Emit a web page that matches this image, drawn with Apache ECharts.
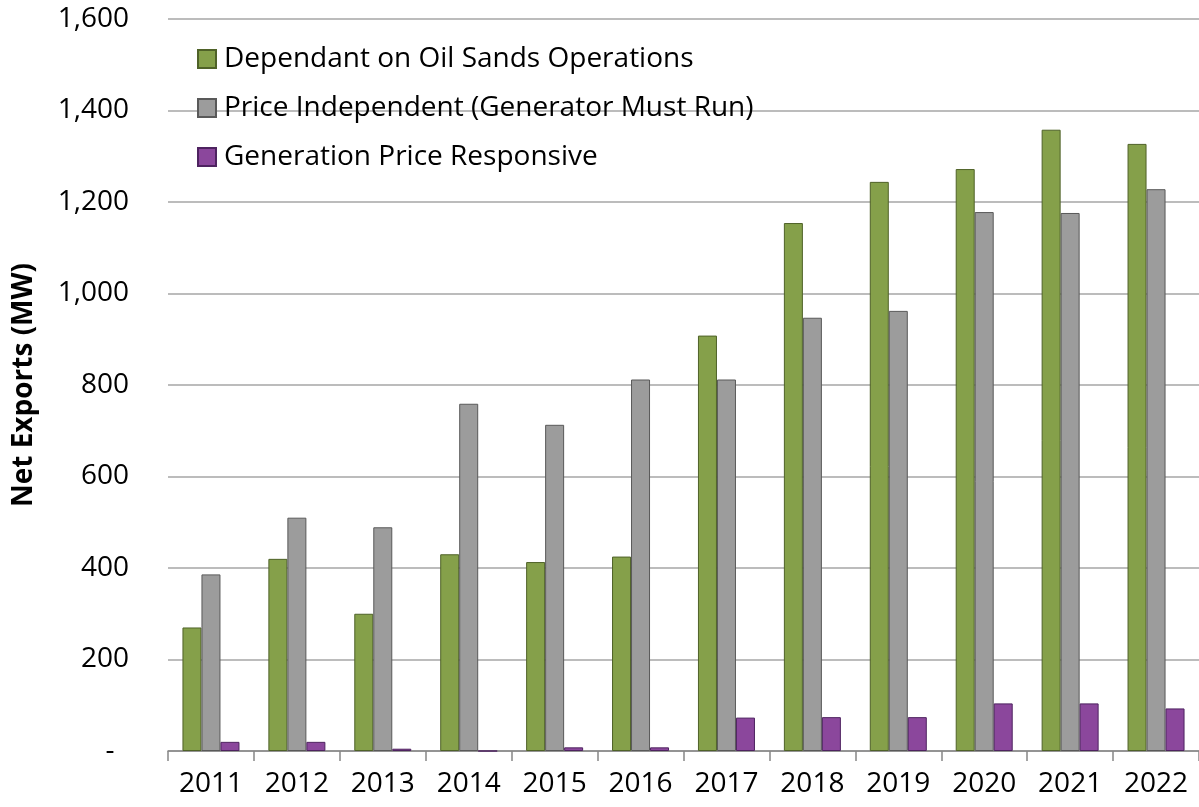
<!DOCTYPE html>
<html>
<head>
<meta charset="utf-8">
<title>Net Exports</title>
<script src="https://cdn.jsdelivr.net/npm/echarts@6/dist/echarts.min.js"></script>
<style>
  html, body { margin: 0; padding: 0; background: #fff; }
  #main { width: 1199px; height: 807px; }
</style>
</head>
<body>
<div id="main"></div>
<script type="text/javascript">
// data
var years = ['2011', '2012', '2013', '2014', '2015', '2016', '2017', '2018', '2019', '2020', '2021', '2022'];
var oilSands = [270, 420, 300, 430, 413, 425, 908, 1154, 1244, 1272, 1358, 1327];
var mustRun = [386, 510, 489, 759, 713, 812, 812, 947, 962, 1178, 1176, 1228];
var priceResponsive = [20, 20, 5, 0, 8, 8, 73, 74, 74, 104, 104, 93];
var seriesNames = ['Dependant on Oil Sands Operations', 'Price Independent (Generator Must Run)', 'Generation Price Responsive'];

var font = '"Open Sans", "Noto Sans", sans-serif';

var myChart = echarts.init(document.getElementById('main'));

function bar(name, data, fill, border) {
    return {
        name: name,
        type: 'bar',
        data: data,
        barWidth: 19,
        barGap: '0%',
        itemStyle: { color: fill, borderColor: border, borderWidth: 1 },
        emphasis: { disabled: true }
    };
}

myChart.setOption({
    animation: false,
    textStyle: { fontFamily: font },
    grid: { left: 168, top: 19, width: 1040, height: 732 },
    legend: {
        orient: 'vertical',
        left: 197,
        top: 44,
        padding: 0,
        icon: 'rect',
        itemWidth: 18,
        itemHeight: 18,
        itemGap: 19,
        textStyle: { fontSize: 28, color: '#000', fontFamily: font, lineHeight: 30, padding: [0, 0, 0, 3] },
        data: seriesNames
    },
    xAxis: {
        type: 'category',
        data: years,
        boundaryGap: true,
        axisLine: { lineStyle: { color: '#868686', width: 1.5 } },
        axisTick: { show: true, length: 10, lineStyle: { color: '#868686', width: 1.5 } },
        axisLabel: { fontSize: 28, color: '#000', margin: 19, fontFamily: font }
    },
    yAxis: {
        type: 'value',
        min: 0,
        max: 1600,
        interval: 200,
        name: 'Net Exports (MW)',
        nameLocation: 'middle',
        nameGap: 130,
        nameTextStyle: { fontSize: 28, fontWeight: 'bold', color: '#000', fontFamily: font },
        axisLine: { show: false },
        axisTick: { show: false },
        splitLine: { lineStyle: { color: '#A6A6A6', width: 1.5 } },
        axisLabel: {
            fontSize: 28,
            color: '#000',
            margin: 39,
            fontFamily: font,
            formatter: function (v) { return v === 0 ? '-  ' : v.toLocaleString('en-US'); }
        }
    },
    series: [
        bar(seriesNames[0], oilSands, '#85A04A', '#4F6228'),
        bar(seriesNames[1], mustRun, '#9C9C9C', '#595959'),
        bar(seriesNames[2], priceResponsive, '#8B479C', '#4E2360')
    ]
});
</script>
</body>
</html>
